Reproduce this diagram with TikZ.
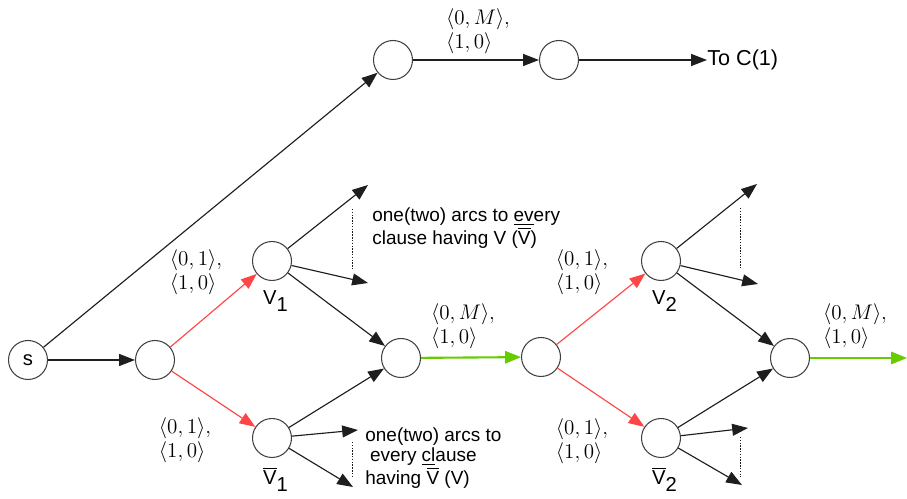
\documentclass[tikz,border=0pt]{standalone}
\usepackage{fontspec}
\setsansfont{Liberation Sans}
\usetikzlibrary{arrows.meta}
\definecolor{redA}{RGB}{255,70,70}
\definecolor{greenA}{RGB}{102,204,0}
\definecolor{lineA}{RGB}{30,30,30}
\begin{document}
\begin{tikzpicture}[x=0.02cm,y=-0.02cm,
  vtx/.style={circle,draw=lineA!85,line width=0.6pt,minimum size=0.78cm,inner sep=0pt,font=\sffamily\fontsize{11.5}{13}\selectfont},
  arr/.style={draw=lineA,line width=0.65pt,-{Triangle[length=9pt,width=6.8pt]}},
  redarr/.style={arr,draw=redA},
  greenarr/.style={arr,draw=greenA,line width=1.2pt,-{Triangle[length=9pt,width=7pt]}},
  dots/.style={draw=lineA,line width=0.5pt,dash pattern=on 0.8pt off 0.8pt},
  wlab/.style={align=left,font=\fontsize{12}{13.8}\selectfont,inner sep=0pt},
  txt/.style={align=left,font=\sffamily\fontsize{10.8}{11.6}\selectfont,inner sep=0pt,anchor=west},
  vlab/.style={font=\sffamily\fontsize{11.5}{13}\selectfont,inner sep=0pt}
]
\useasboundingbox (0,0) rectangle (907,499);

% nodes
\node[vtx] (s) at (28,360) {s};
\node[vtx] (n1) at (155,360) {};
\node[vtx] (t1) at (393,60) {};
\node[vtx] (t2) at (559,60) {};
\node[txt,font=\sffamily\fontsize{12.3}{14}\selectfont] (toC) at (707,60) {To C(1)};
\node[vtx] (V1) at (272,261) {};
\node[vtx] (V1b) at (272,438) {};
\node[vtx] (m1) at (401,358) {};
\node[vtx] (m2) at (541,357) {};
\node[vtx] (V2) at (661,261) {};
\node[vtx] (V2b) at (661,438) {};
\node[vtx] (m3) at (790,358) {};

% free ends
\coordinate (a1) at (368,185);
\coordinate (a2) at (368,283);
\coordinate (a3) at (358,430);
\coordinate (a4) at (353,487);
\coordinate (b1) at (757,184);
\coordinate (b2) at (758,284);
\coordinate (b3) at (748,428);
\coordinate (b4) at (742,485);
\coordinate (e) at (907,358);
\coordinate (d1) at (352,209);
\coordinate (d2) at (352,269);
\coordinate (d3) at (352,442);
\coordinate (d4) at (352,477);
\coordinate (d5) at (740,208);
\coordinate (d6) at (740,268);
\coordinate (d7) at (740,437);
\coordinate (d8) at (740,477);

% connectors
\draw[arr] (s) -- (t1);
\draw[arr] (s) -- (n1);
\draw[arr] (t1) -- (t2);
\draw[arr] (t2) -- (toC.west);
\draw[redarr] (n1) -- (V1);
\draw[redarr] (n1) -- (V1b);
\draw[arr] (V1) -- (a1);
\draw[arr] (V1) -- (a2);
\draw[arr] (V1) -- (m1);
\draw[arr] (V1b) -- (m1);
\draw[arr] (V1b) -- (a3);
\draw[arr] (V1b) -- (a4);
\draw[greenarr] (m1) -- (m2);
\draw[redarr] (m2) -- (V2);
\draw[redarr] (m2) -- (V2b);
\draw[arr] (V2) -- (b1);
\draw[arr] (V2) -- (b2);
\draw[arr] (V2) -- (m3);
\draw[arr] (V2b) -- (m3);
\draw[arr] (V2b) -- (b3);
\draw[arr] (V2b) -- (b4);
\draw[greenarr] (m3) -- (e);
\draw[dots] (d1) -- (d2);
\draw[dots] (d3) -- (d4);
\draw[dots] (d5) -- (d6);
\draw[dots] (d7) -- (d8);

% weight labels
\node[wlab] (w1) at (478,31) {$\langle 0,M\rangle,$\\$\langle 1,0\rangle$};
\node[wlab] (w2) at (463,326) {$\langle 0,M\rangle,$\\$\langle 1,0\rangle$};
\node[wlab] (w3) at (855,326) {$\langle 0,M\rangle,$\\$\langle 1,0\rangle$};
\node[wlab] (w4) at (196,272) {$\langle 0,1\rangle,$\\$\langle 1,0\rangle$};
\node[wlab] (w5) at (185,440) {$\langle 0,1\rangle,$\\$\langle 1,0\rangle$};
\node[wlab] (w6) at (582,272) {$\langle 0,1\rangle,$\\$\langle 1,0\rangle$};
\node[wlab] (w7) at (582,441) {$\langle 0,1\rangle,$\\$\langle 1,0\rangle$};

% variable labels
\node[vlab] (l1) at (276,301) {V$_{\textsf{1}}$};
\node[vlab] (l2) at (276,479) {$\overline{\mbox{V}}_{\textsf{1}}$};
\node[vlab] (l3) at (665,301) {V$_{\textsf{2}}$};
\node[vlab] (l4) at (665,479) {$\overline{\mbox{V}}_{\textsf{2}}$};

% texts
\node[txt] (c1) at (372,228) {one(two) arcs to \underline{ev}ery\\clause having V ($\overline{\mbox{V}}$)};
\node[txt] (c2) at (365,458) {one(two) arcs to\\\hspace{0.25em}every \underline{cl}ause\\having $\overline{\mbox{V}}$ (V)};
\end{tikzpicture}
\end{document}
